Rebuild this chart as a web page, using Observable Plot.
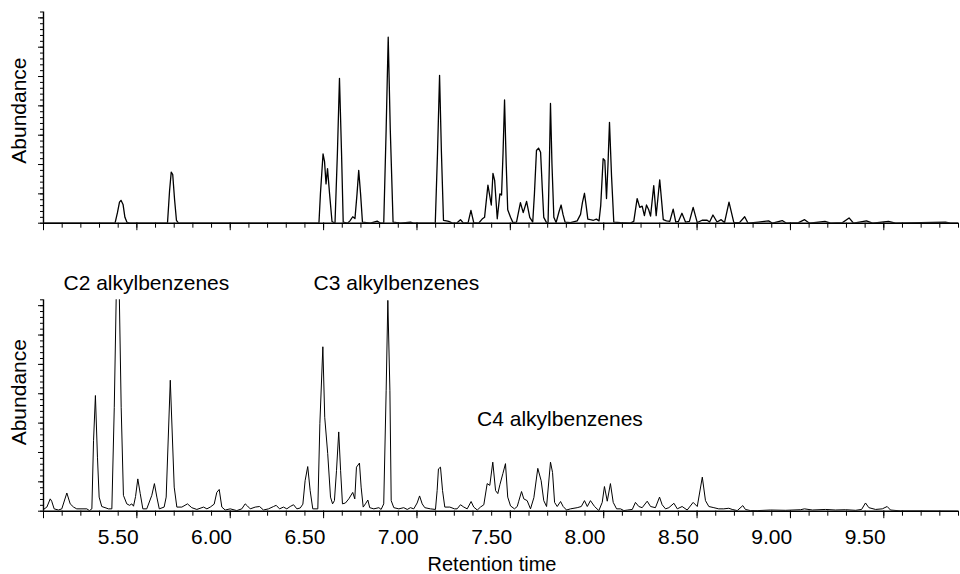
<!DOCTYPE html>
<html>
<head>
<meta charset="utf-8">
<script src="https://cdn.jsdelivr.net/npm/d3@7"></script>
<script src="https://cdn.jsdelivr.net/npm/@observablehq/plot@0.6"></script>
<style>
html, body { margin: 0; padding: 0; background: #fff; }
#chart svg { display: block; }
</style>
</head>
<body>
<div id="chart"></div>
<script>
// ---------- DATA ----------
// Upper chromatogram: retention time (min) and relative abundance
const topTime = [5.100,5.483,5.496,5.507,5.515,5.526,5.536,5.547,5.561,5.764,5.775,5.784,5.792,5.802,5.812,5.823,
6.575,6.583,6.597,6.605,6.613,6.621,6.632,6.645,6.661,6.674,6.685,6.696,6.705,6.728,6.741,6.756,6.768,6.779,6.788,6.798,6.808,
6.851,6.887,6.905,6.922,6.935,6.946,6.957,6.972,7.012,7.065,7.081,7.198,7.210,7.221,7.231,7.242,7.258,7.270,7.290,7.312,7.333,7.349,
7.374,7.389,7.404,7.430,7.449,7.462,7.480,7.498,7.507,7.516,7.530,7.544,7.553,7.561,7.569,7.578,7.586,7.601,7.614,7.633,7.654,7.669,
7.687,7.704,7.720,7.729,7.740,7.751,7.762,7.771,7.779,7.794,7.802,7.809,7.815,7.823,7.833,7.845,7.861,7.872,7.882,7.893,7.922,7.958,
7.976,7.986,7.997,8.006,8.015,8.029,8.045,8.061,8.075,8.084,8.097,8.106,8.115,8.123,8.131,8.142,8.154,8.190,8.243,8.261,8.279,8.293,
8.306,8.318,8.329,8.341,8.351,8.368,8.381,8.400,8.419,8.436,8.454,8.472,8.486,8.500,8.519,8.538,8.559,8.579,8.601,8.627,8.654,8.667,
8.685,8.707,8.729,8.747,8.771,8.797,8.827,8.855,8.873,8.929,8.983,9.004,9.056,9.079,9.143,9.176,9.202,9.285,9.315,9.379,9.414,9.438,
9.507,9.540,9.625,9.663,9.930,9.957,10.000];
const topAbundance = [0,0,1.8,3.6,3.9,3.2,1.0,0.15,0,0,5.5,8.7,8.3,4,0.5,0,
0,5,11.8,10.5,6.7,9.3,5,0.3,0,12,24.7,12,0.2,0,0.4,1.1,0.8,5,9.0,5,0.2,
0,0.35,0,0,16,31.7,16,0.2,0,0.2,0,0,12,25.2,12,0.5,0.4,0.3,0,0,0.6,0,
0.1,2.2,0.1,0,0.7,1.0,6.5,3.1,8.5,7.3,0.75,5.0,4.8,12,21.0,10,2.3,1.0,0.1,0.2,3.5,1.8,
3.7,1.0,0.2,5,12.4,12.8,12.1,6,1.0,0.1,0.1,10,20.4,10,1.0,0.1,2,3.1,1.5,0.2,0.1,0.4,
1.5,3.5,5.1,3,0.7,0.6,0.5,0.7,0.4,3,11.0,10.7,4.2,10,17.2,8,0.2,0.1,0,0.3,4.2,2.7,
2.9,1.3,3.1,2.3,1.2,6.4,1.3,7.4,0.6,0.4,0.3,2.4,0.2,0.3,1.7,0.2,0.3,2.7,0.1,0.5,0.5,0.2,
1.4,0.2,0.6,0.1,3.6,0.1,0.1,1.1,0,0.2,0.4,0,0.45,0,0.1,0.6,0,0.3,0,0.1,0.9,0,
0.4,0,0.3,0,0.2,0,0];

// Lower chromatogram
const bottomTime = [5.100,5.118,5.136,5.144,5.157,5.180,5.198,5.225,5.243,5.261,5.278,5.332,5.346,5.359,5.368,5.378,5.389,5.398,5.412,
5.448,5.466,5.479,5.498,5.516,5.528,5.546,5.561,5.573,5.582,5.593,5.605,5.618,5.632,5.653,5.680,5.694,5.707,5.720,5.746,5.757,5.779,
5.800,5.814,5.841,5.871,5.894,5.921,5.957,5.975,5.993,6.014,6.028,6.041,6.055,6.073,6.100,6.135,6.162,6.180,6.192,6.207,6.234,6.257,
6.278,6.305,6.332,6.346,6.364,6.385,6.403,6.421,6.439,6.457,6.475,6.489,6.501,6.515,6.528,6.542,6.569,6.580,6.596,6.606,6.622,6.637,
6.648,6.658,6.669,6.681,6.691,6.701,6.717,6.735,6.756,6.767,6.776,6.792,6.801,6.812,6.824,6.837,6.847,6.869,6.896,6.908,6.922,6.935,
6.944,6.955,6.962,6.976,7.003,7.029,7.048,7.065,7.083,7.101,7.114,7.128,7.142,7.172,7.199,7.208,7.215,7.226,7.237,7.249,7.276,7.301,
7.315,7.333,7.351,7.369,7.390,7.404,7.423,7.440,7.458,7.476,7.490,7.506,7.521,7.533,7.544,7.560,7.574,7.586,7.601,7.622,7.637,7.645,
7.660,7.672,7.690,7.708,7.726,7.747,7.765,7.779,7.794,7.815,7.826,7.837,7.851,7.869,7.883,7.901,7.922,7.958,7.980,7.997,8.012,8.029,
8.051,8.074,8.092,8.104,8.119,8.136,8.151,8.169,8.190,8.208,8.229,8.253,8.270,8.288,8.306,8.333,8.351,8.377,8.399,8.413,8.431,8.449,
8.476,8.494,8.520,8.547,8.579,8.601,8.628,8.645,8.663,8.690,8.716,8.743,8.770,8.788,8.815,8.845,8.859,8.886,8.922,8.993,9.074,9.154,
9.175,9.218,9.288,9.341,9.395,9.449,9.481,9.502,9.520,9.556,9.592,9.618,9.636,9.690,9.797,10.000];
const bottomAbundance = [0.3,0.7,2.1,1.7,0.4,0.2,0.4,3.1,1.25,0.7,0.4,0.4,0.1,0.4,12,19.7,9.2,2.4,0.8,
0.4,0.4,17.7,52,17.7,2.7,1.25,1.0,1.25,0.85,2.5,5.5,3.0,0.4,0.4,2.7,4.7,2.4,0.4,0.7,2.4,22.3,
4.1,0.7,0.7,1.25,0.6,0.3,0.7,0.4,0.7,1.2,3.2,3.7,0.7,0.2,0.4,0.1,0.4,1.25,0.9,0.4,0.7,0.8,
0.2,0.4,0.8,1.0,0.4,0.7,0.4,0.8,1.1,0.4,0.55,1.2,5.2,7.6,3.5,0.4,0.4,14.9,28.0,16.0,9.8,2.4,
1.25,1.8,6.9,13.5,6.9,1.25,1.4,2.1,3.2,2.1,7.5,8.2,4.1,0.7,1.25,1.9,0.6,0.4,0.6,0.3,1.25,20.6,
35.9,20.6,1.8,0.6,0.4,0.6,0.3,0.6,0.4,1.4,2.6,1.25,0.6,0.4,0.3,3.5,7.2,7.5,3.5,0.7,0.7,0.4,
0.4,1.1,0.7,0.4,1.65,0.7,0.2,0.7,1.1,4.7,4.4,8.35,3.5,3.0,4.5,6.4,8.1,2.4,0.9,0.4,0.8,1.7,
3.35,2.1,1.8,0.4,2.3,7.3,5.2,1.8,0.8,8.35,6.6,1.5,0.8,1.65,0.8,0.2,0.4,0.6,0.8,1.8,0.8,1.8,
0.8,0.1,1.5,4.2,1.7,4.7,1.5,0.4,0.4,0.1,0.2,0.3,1.5,0.8,0.6,1.7,0.8,0.6,2.4,1.1,0.4,0.6,
1.35,0.4,0.8,0.2,1.5,0.8,5.8,1.8,0.8,0.6,0.4,0.4,0.5,0.3,0.1,0.95,0.3,0.1,0.1,0.2,0.15,0.25,
0.4,0.2,0.3,0.2,0.25,0.15,0.3,1.4,0.6,0.3,0.4,0.8,0.2,0.05,0.05,0];

// Tick labels (x axis) and annotations
const xTickLabels = [5.5, 6.0, 6.5, 7.0, 7.5, 8.0, 8.5, 9.0, 9.5];
const groupLabels = ["C2 alkylbenzenes", "C3 alkylbenzenes", "C4 alkylbenzenes"];
const groupLabelTime = [5.207, 6.546, 7.422];
const groupLabelAbundance = [37.7, 37.7, 14.5];
const yAxisTitle = "Abundance";
const xAxisTitle = "Retention time";

// ---------- CHART ----------
const FONT = '"Liberation Sans", Arial, Helvetica, sans-serif';
const xDomain = [5.1, 10.0];
const yDomain = [0, 36];
const minorX = d3.range(51, 101).map(d => d / 10);
const majorX = d3.range(51, 101, 5).map(d => d / 10);
const minorY = d3.range(0, 37);
const majorY = d3.range(0, 36, 5);

function panel({time, abundance, height, marginTop, marginBottom, yTitleDy, bottomPanel, lineWidth}) {
  const data = time.map((t, i) => ({t, a: abundance[i]}));
  const marks = [
    Plot.line(data, {x: "t", y: "a", stroke: "#000", strokeWidth: lineWidth, clip: true}),
    Plot.ruleY([0], {stroke: "#000", strokeWidth: 1.4}),
    Plot.ruleX([xDomain[0]], {y1: yDomain[0], y2: yDomain[1], stroke: "#000", strokeWidth: 1.4}),
    Plot.axisY({ticks: minorY, tickSize: 3, tickFormat: () => "", label: null}),
    Plot.axisY({ticks: majorY, tickSize: 5, tickFormat: () => "", label: null}),
    Plot.axisX({ticks: minorX, tickSize: 5, tickFormat: () => "", label: null}),
    Plot.axisX({ticks: majorX, tickSize: 7.5, tickFormat: () => "", label: null}),
    Plot.text([yAxisTitle], {text: d => d, frameAnchor: "left", rotate: -90, dx: -24, dy: yTitleDy,
      textAnchor: "middle", lineAnchor: "middle", fontSize: 21, fill: "#000"})
  ];
  if (bottomPanel) {
    marks.push(
      Plot.axisX({ticks: xTickLabels, tickSize: 0, tickPadding: 17.4, tickFormat: d => d.toFixed(2), fontSize: 21, label: null}),
      Plot.text([xAxisTitle], {text: d => d, frameAnchor: "bottom", dx: -9, dy: 59.3, lineAnchor: "bottom",
        textAnchor: "middle", fontSize: 20, fill: "#000"}),
      Plot.text(groupLabels, {x: (d, i) => groupLabelTime[i], y: (d, i) => groupLabelAbundance[i], text: d => d,
        textAnchor: "start", lineAnchor: "bottom", fontSize: 21, fill: "#000"})
    );
  }
  return Plot.plot({
    width: 960,
    height,
    marginLeft: 43,
    marginRight: 2,
    marginTop,
    marginBottom,
    x: {domain: xDomain},
    y: {domain: yDomain},
    style: {fontFamily: FONT, fontSize: "21px", color: "#000", background: "#fff", overflow: "visible"},
    marks
  });
}

const chart = document.getElementById("chart");
chart.append(panel({time: topTime, abundance: topAbundance, height: 250, marginTop: 11.5, marginBottom: 27.3, yTitleDy: -7, bottomPanel: false, lineWidth: 1.3}));
chart.append(panel({time: bottomTime, abundance: bottomAbundance, height: 324, marginTop: 49.3, marginBottom: 63.3, yTitleDy: -13.3, bottomPanel: true, lineWidth: 1}));
</script>
</body>
</html>
